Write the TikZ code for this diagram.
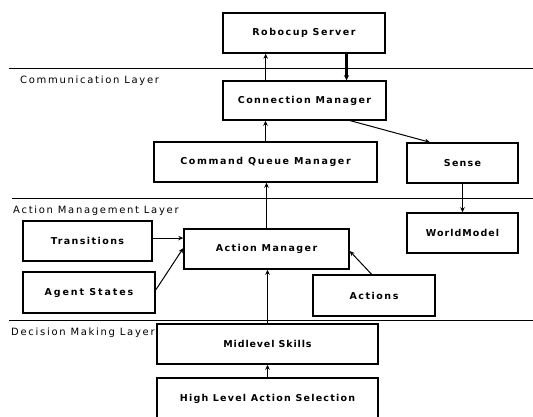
\documentclass[tikz,border=0pt]{standalone}
\usepackage{fontspec}
\setmainfont{DejaVu Sans}
\newfontfamily\boxfont[LetterSpace=15]{DejaVu Sans}
\newfontfamily\layerfont[LetterSpace=17]{DejaVu Sans}
\usetikzlibrary{arrows.meta,calc}
\newcommand\spaced[2]{{\addfontfeature{LetterSpace=#1}#2}}
\tikzset{
  box/.style={draw, line width=1.5pt, inner sep=0pt, align=center,
    font=\boxfont\bfseries\fontsize{9.5}{11}\selectfont},
  layerline/.style={line width=0.9pt},
  layertext/.style={anchor=west, inner sep=0pt,
    font=\layerfont\fontsize{10}{12}\selectfont},
  flow/.style={line width=1pt, -{Stealth[length=5pt,width=4.5pt]}},
  heavy/.style={line width=2.2pt, -{Stealth[length=5pt,width=5pt]}}
}
\begin{document}
\begin{tikzpicture}[x=1pt,y=-1pt]
\useasboundingbox (0,0) rectangle (533,417);

% layer separators and their titles
\draw[layerline] (9,68) -- (533,68);
\draw[layerline] (12,198) -- (533,198);
\draw[layerline] (9,320) -- (533,320);
\node[layertext] (lcomm) at (20,81) {Communication Layer};
\node[layertext] (lact) at (13,211) {Action Management Layer};
\node[layertext] (ldec) at (11,333) {Decision Making Layer};

% components
\node[box, minimum width=162pt, minimum height=40pt] (rs)  at (304,33)  {\spaced{16}{Robocup Server}};
\node[box, minimum width=163pt, minimum height=39pt] (cm)  at (304.5,100.5) {Connection Manager};
\node[box, minimum width=223pt, minimum height=40pt] (cqm) at (265.5,162) {\spaced{17}{Command Queue Manager}};
\node[box, minimum width=111pt, minimum height=40pt] (sense) at (462.5,163) {\spaced{13}{Sense}};
\node[box, minimum width=111pt, minimum height=40pt] (wm) at (462.5,233) {\spaced{11}{WorldModel}};
\node[box, minimum width=129pt, minimum height=40pt] (tr) at (87.5,241) {Transitions};
\node[box, minimum width=165pt, minimum height=40pt] (am) at (266.5,249) {Action Manager};
\node[box, minimum width=132pt, minimum height=41pt] (as) at (89,292.5) {\spaced{20}{Agent States}};
\node[box, minimum width=122pt, minimum height=41pt] (act) at (374,295.5) {\spaced{16}{Actions}};
\node[box, minimum width=221pt, minimum height=40pt] (ms) at (267.5,344) {\spaced{9}{Midlevel Skills}};
\node[box, minimum width=221pt, minimum height=42pt] (hlas) at (267.5,399) {\spaced{13}{High Level Action Selection}};

% connectors
\coordinate (cmup) at ($(cm.north west)!0.264!(cm.north east)$);
\coordinate (rsdown) at ($(rs.south west)!0.76!(rs.south east)$);
\coordinate (trout) at ($(tr.north east)!0.43!(tr.south east)$);
\draw[flow] (cmup) -- (cmup |- rs.south);
\draw[heavy] (rsdown) -- (rsdown |- cm.north);
\draw[flow] ($(cm.south west)!0.78!(cm.south east)$) -- ($(sense.north west)!0.21!(sense.north east)$);
\draw[flow] (sense.south) -- (wm.north);
\draw[flow] (cqm.north) -- (cqm.north |- cm.south);
\draw[flow] (am.north) -- (am.north |- cqm.south);
\draw[flow] (trout) -- (trout -| am.west);
\draw[flow] ($(as.north east)!0.44!(as.south east)$) -- ($(am.north west)!0.48!(am.south west)$);
\draw[flow] ($(act.north west)!0.48!(act.north east)$) -- ($(am.north east)!0.55!(am.south east)$);
\draw[flow] (ms.north) -- (ms.north |- am.south);
\draw[flow] (hlas.north) -- (ms.south);
\end{tikzpicture}
\end{document}
